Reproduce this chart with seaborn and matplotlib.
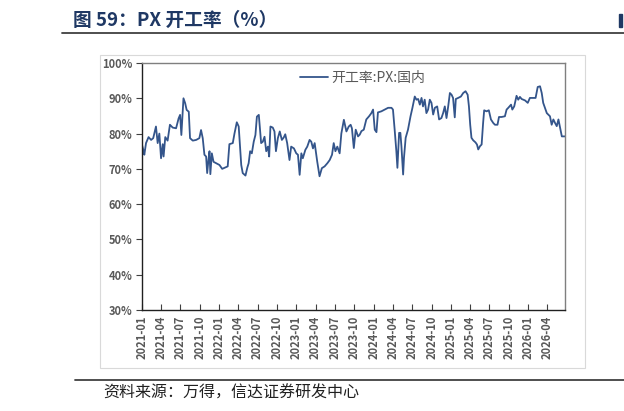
import matplotlib
matplotlib.use("Agg")
import matplotlib.pyplot as plt
import matplotlib.dates as mdates
from matplotlib.ticker import FuncFormatter, MultipleLocator
import pandas as pd
import seaborn as sns

# PX 开工率（国内），周度，读自原图
dates = [
    "2021-01-01", "2021-01-07", "2021-01-12", "2021-01-20", "2021-02-01", "2021-02-13", "2021-02-23",
    "2021-03-08", "2021-03-16", "2021-03-24", "2021-04-01", "2021-04-09", "2021-04-13", "2021-04-21",
    "2021-05-02", "2021-05-13", "2021-05-26", "2021-06-11", "2021-06-23", "2021-06-30", "2021-07-06",
    "2021-07-16", "2021-07-24", "2021-07-31", "2021-08-10", "2021-08-16", "2021-08-29", "2021-09-14",
    "2021-09-29", "2021-10-07", "2021-10-15", "2021-10-23", "2021-10-31", "2021-11-05", "2021-11-11",
    "2021-11-16", "2021-11-20", "2021-11-27", "2021-12-05", "2021-12-17",
    "2022-01-02", "2022-01-15", "2022-01-30", "2022-02-10", "2022-02-18", "2022-03-06", "2022-03-14",
    "2022-03-25", "2022-04-03", "2022-04-15", "2022-04-22", "2022-05-05", "2022-05-14", "2022-05-20",
    "2022-05-27", "2022-06-04", "2022-06-13", "2022-06-21", "2022-06-28", "2022-07-07", "2022-07-18",
    "2022-07-26", "2022-08-03", "2022-08-11", "2022-08-19", "2022-08-25", "2022-08-31", "2022-09-11",
    "2022-09-19", "2022-09-26", "2022-10-05", "2022-10-14", "2022-10-24", "2022-11-02", "2022-11-09",
    "2022-11-18", "2022-11-29", "2022-12-07", "2022-12-20", "2022-12-31",
    "2023-01-08", "2023-01-16", "2023-01-24", "2023-01-31", "2023-02-12", "2023-02-21", "2023-03-04",
    "2023-03-12", "2023-03-20", "2023-03-28", "2023-04-09", "2023-04-20", "2023-05-01", "2023-05-14",
    "2023-05-27", "2023-06-07", "2023-06-18", "2023-06-26", "2023-07-04", "2023-07-13", "2023-07-24",
    "2023-08-01", "2023-08-13", "2023-08-25", "2023-09-05", "2023-09-14", "2023-09-20", "2023-09-29",
    "2023-10-08", "2023-10-19", "2023-10-27", "2023-11-04", "2023-11-15", "2023-11-27", "2023-12-10",
    "2023-12-21", "2023-12-29",
    "2024-01-06", "2024-01-14", "2024-01-21", "2024-02-06", "2024-02-22", "2024-03-09", "2024-03-25",
    "2024-04-01", "2024-04-09", "2024-04-17", "2024-04-22", "2024-04-30", "2024-05-06", "2024-05-11",
    "2024-05-19", "2024-05-23", "2024-05-31", "2024-06-11", "2024-06-23", "2024-07-02", "2024-07-13",
    "2024-07-21", "2024-07-29", "2024-08-06", "2024-08-14", "2024-08-21", "2024-08-29", "2024-09-06",
    "2024-09-14", "2024-09-22", "2024-09-30", "2024-10-08", "2024-10-16", "2024-10-27", "2024-11-05",
    "2024-11-16", "2024-11-24", "2024-12-02", "2024-12-10", "2024-12-18", "2024-12-26",
    "2025-01-03", "2025-01-10", "2025-01-18", "2025-01-23", "2025-02-03", "2025-02-16", "2025-02-27",
    "2025-03-10", "2025-03-20", "2025-03-26", "2025-04-01", "2025-04-07", "2025-04-15", "2025-04-26",
    "2025-05-03", "2025-05-09", "2025-05-17", "2025-05-25", "2025-06-01", "2025-06-06", "2025-06-17",
    "2025-06-28", "2025-07-08", "2025-07-19", "2025-07-27", "2025-08-08", "2025-08-15", "2025-08-27",
    "2025-09-12", "2025-09-20", "2025-09-28", "2025-10-11", "2025-10-17", "2025-10-26", "2025-11-06",
    "2025-11-14", "2025-11-22", "2025-11-30", "2025-12-16", "2025-12-29",
    "2026-01-08", "2026-01-24", "2026-02-04", "2026-02-14", "2026-02-25", "2026-03-05", "2026-03-12",
    "2026-03-20", "2026-03-29", "2026-04-05", "2026-04-13", "2026-04-21", "2026-04-29", "2026-05-07",
    "2026-05-15", "2026-05-23", "2026-05-31", "2026-06-08", "2026-06-23",
]
rate = [
    76.8, 75.4, 74.0, 77.3, 79.0, 78.2, 78.7,
    82.0, 77.3, 80.0, 73.0, 77.0, 73.5, 79.0,
    78.0, 82.5, 81.7, 81.5, 84.3, 85.3, 79.6,
    90.0, 88.6, 86.7, 86.2, 78.7, 78.0, 78.2,
    78.7, 81.0, 78.7, 74.0, 73.5, 68.8, 72.5,
    75.0, 68.5, 74.4, 72.0, 71.6,
    71.1, 70.0, 70.4, 70.7, 77.0, 77.3, 80.0,
    83.2, 82.0, 71.1, 68.8, 68.1, 70.4, 71.6,
    75.0, 74.4, 77.7, 79.6, 84.8, 85.3, 77.3,
    77.7, 79.1, 75.0, 76.3, 73.5, 82.0, 81.7,
    80.6, 75.0, 78.7, 80.6, 78.2, 78.9, 79.8,
    77.3, 72.5, 76.3, 75.8, 74.4,
    74.0, 68.3, 74.4, 73.0, 75.4, 76.3, 78.2,
    77.7, 75.8, 77.3, 72.1, 67.9, 70.2, 70.7,
    71.6, 72.5, 74.0, 77.3, 75.0, 76.3, 74.4,
    80.0, 83.9, 80.6, 82.0, 82.5, 81.5, 75.9,
    81.1, 79.2, 79.7, 80.7, 81.1, 84.0, 84.9,
    85.8, 86.8,
    81.1, 80.4, 86.0, 86.3, 86.8, 87.3, 87.3,
    86.8, 81.1, 75.0, 70.3, 80.2, 80.2, 76.4,
    68.4, 73.1, 78.8, 81.1, 84.9, 87.3, 90.5,
    89.6, 89.8, 88.2, 90.1, 87.7, 89.6, 85.8,
    86.8, 89.6, 88.7, 85.4, 87.3, 87.7, 84.0,
    84.4, 85.8, 87.7, 84.4, 87.7, 91.5,
    91.0, 90.1, 84.6, 89.8, 90.1, 90.5, 91.5,
    92.0, 91.0, 87.7, 82.5, 78.8, 78.1, 77.5,
    76.9, 75.5, 76.4, 76.9, 83.0, 86.6, 86.3,
    86.6, 84.0, 83.0, 82.5, 82.5, 84.7, 84.7,
    84.9, 86.8, 87.3, 88.2, 86.8, 87.7, 90.7,
    89.6, 90.4, 89.8, 89.4, 88.7,
    90.1, 90.1, 90.1, 93.2, 93.4, 91.5, 88.7,
    87.3, 85.8, 85.4, 84.9, 82.5, 84.0, 83.0,
    82.1, 84.0, 81.6, 79.2, 79.2,
]
series_name = "开工率:PX:国内"
title = "图 59：PX 开工率（%）"
source = "资料来源：万得，信达证券研发中心"

df = pd.DataFrame({"date": pd.to_datetime(dates), "rate": rate})

sns.set_style("white")
plt.rcParams["font.family"] = ["Noto Sans CJK SC", "DejaVu Sans"]

navy = "#34558B"
grey_txt = "#595959"

fig = plt.figure(figsize=(6.24, 4.11), dpi=100)
ax = fig.add_axes([142 / 624, 1 - 310 / 411, 423 / 624, 247 / 411])

sns.lineplot(data=df, x="date", y="rate", ax=ax, color=navy, linewidth=1.3, label=series_name)

ax.set_ylim(30, 100)
ax.set_xlim(pd.Timestamp("2021-01-01"), pd.Timestamp("2026-06-23"))
ax.yaxis.set_major_locator(MultipleLocator(10))
ax.yaxis.set_major_formatter(FuncFormatter(lambda v, p: f"{v:.0f}%"))
ax.xaxis.set_major_locator(mdates.MonthLocator(bymonth=[1, 4, 7, 10]))
ax.xaxis.set_major_formatter(mdates.DateFormatter("%Y-%m"))
ax.set_xlabel("")
ax.set_ylabel("")

ax.tick_params(axis="y", direction="out", length=4, width=0.8, color="#404040",
               labelsize=8, labelcolor=grey_txt, pad=3, left=True)
ax.tick_params(axis="x", direction="in", length=4, width=0.8, color="#404040",
               labelsize=8, labelcolor=grey_txt, pad=4, rotation=90, bottom=True)
for lab in ax.get_xticklabels() + ax.get_yticklabels():
    lab.set_fontweight("bold")

for side in ["left", "bottom"]:
    ax.spines[side].set_color("#202020")
    ax.spines[side].set_linewidth(1.0)
for side in ["top", "right"]:
    ax.spines[side].set_color("#7F7F7F")
    ax.spines[side].set_linewidth(1.0)

leg = ax.legend(loc="center", bbox_to_anchor=(0.522, 0.94), frameon=False,
                fontsize=10, handlelength=2.0, handletextpad=0.25)
for t in leg.get_texts():
    t.set_color(grey_txt)

# 外框、标题与来源
fig.patches.append(plt.Rectangle((100 / 624, 1 - 368 / 411), 485 / 624, 313 / 411,
                                 transform=fig.transFigure, fill=False,
                                 edgecolor="#D9D9D9", linewidth=0.8))
fig.text(73 / 624, 1 - 20 / 411, title, fontsize=13.5, fontweight="bold",
         color="#1F3864", va="center", ha="left")
fig.patches.append(plt.Rectangle((619 / 624, 1 - 27 / 411), 3 / 624, 13 / 411,
                                 transform=fig.transFigure, color="#1F3864"))
fig.add_artist(plt.Line2D([62 / 624, 1], [1 - 33 / 411, 1 - 33 / 411],
                          color="#404040", linewidth=1.3, transform=fig.transFigure))
fig.add_artist(plt.Line2D([75 / 624, 1], [1 - 380 / 411, 1 - 380 / 411],
                          color="#404040", linewidth=1.3, transform=fig.transFigure))
fig.text(103 / 624, 1 - 393 / 411, source, fontsize=11.5, color="#202020",
         va="center", ha="left")

fig.savefig("out.png", dpi=100)
